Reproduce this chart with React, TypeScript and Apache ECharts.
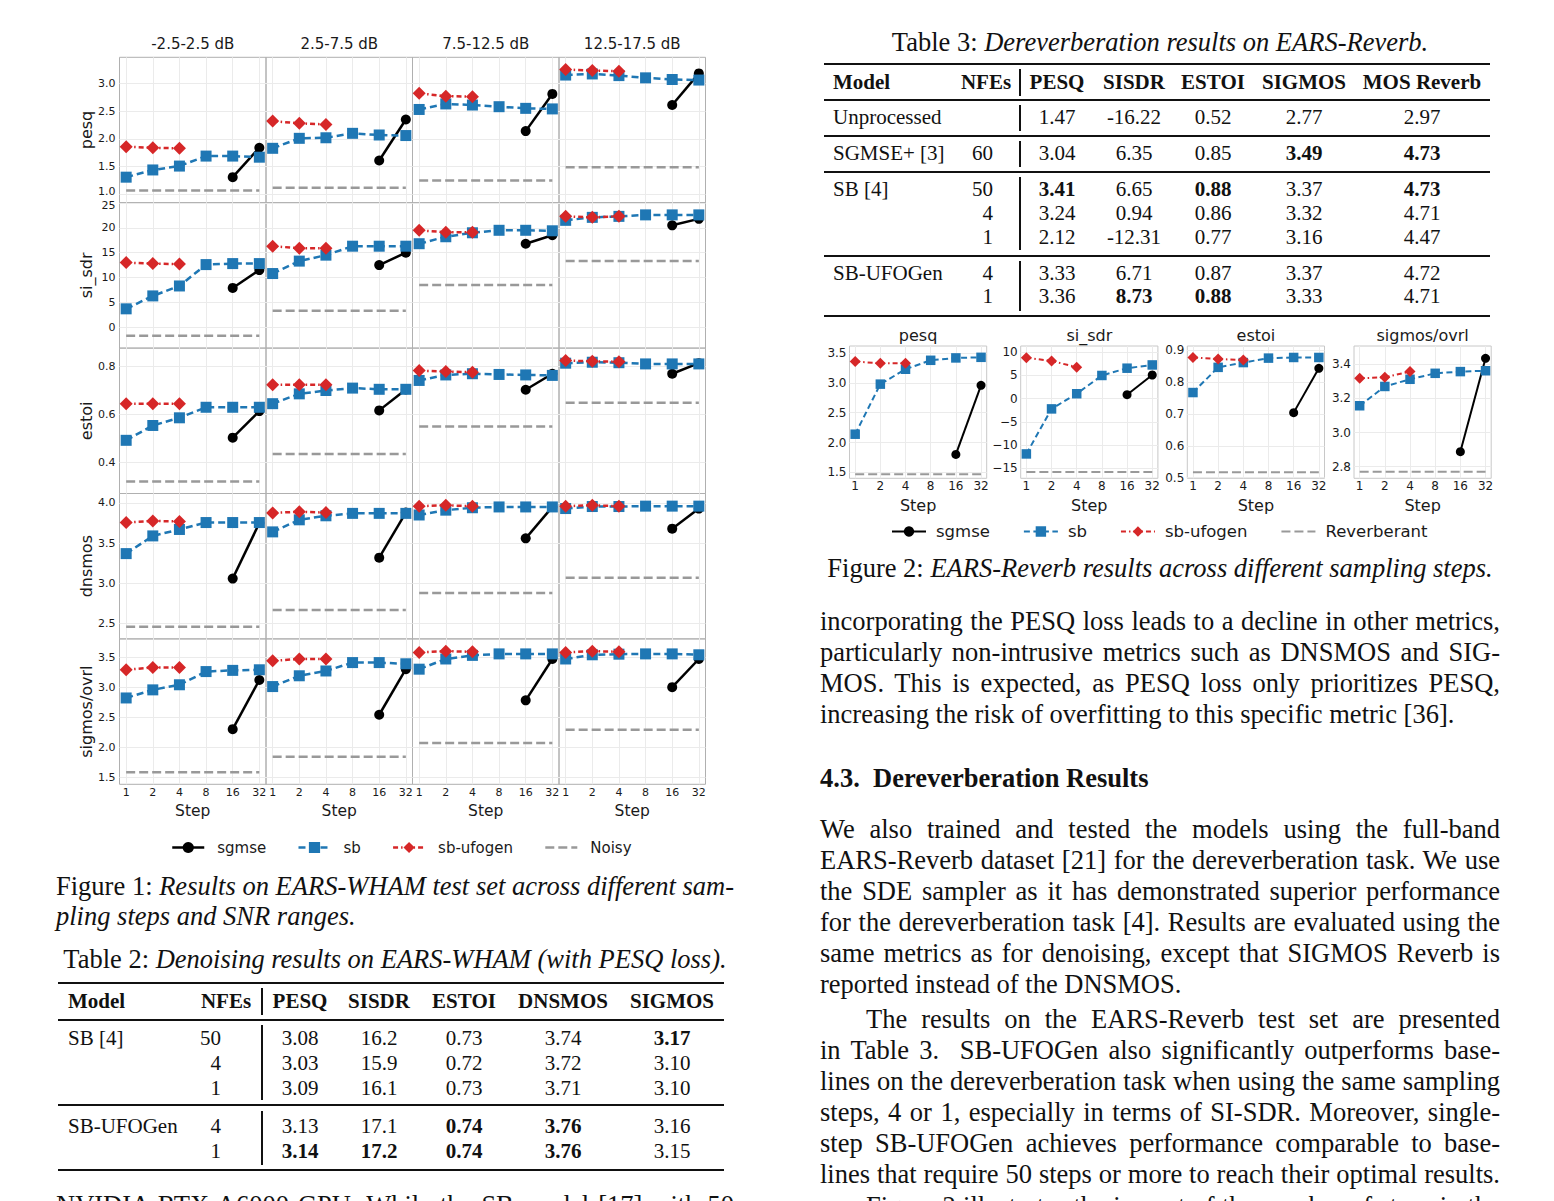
import React, { useEffect, useRef } from 'react';
import * as echarts from 'echarts';

// ---------------- data ----------------
const steps = [1, 2, 4, 8, 16, 32];
const sgmseSteps = [16, 32];
const ufogenSteps = [1, 2, 4];
const snrRanges = ['-2.5-2.5 dB', '2.5-7.5 dB', '7.5-12.5 dB', '12.5-17.5 dB'];
const fig1Metrics = ['pesq', 'si_sdr', 'estoi', 'dnsmos', 'sigmos/ovrl'];
const fig1SeriesNames = ['sgmse', 'sb', 'sb-ufogen', 'Noisy'];

// one inner list per SNR range
const pesqSgmse = [[1.31, 1.84], [1.61, 2.35], [2.14, 2.81], [2.61, 3.18]];
const pesqSb = [[1.31, 1.44, 1.51, 1.69, 1.69, 1.67], [1.83, 2.01, 2.02, 2.1, 2.07, 2.06], [2.53, 2.63, 2.61, 2.58, 2.55, 2.54], [3.15, 3.17, 3.14, 3.1, 3.07, 3.06]];
const pesqUfogen = [[1.86, 1.84, 1.83], [2.32, 2.28, 2.26], [2.82, 2.77, 2.76], [3.25, 3.23, 3.22]];
const pesqNoisy = [1.07, 1.12, 1.25, 1.49];

const sisdrSgmse = [[7.9, 11.5], [12.5, 15.0], [16.8, 18.5], [20.5, 21.8]];
const sisdrSb = [[3.7, 6.3, 8.3, 12.6, 12.8, 12.8], [10.8, 13.3, 14.5, 16.3, 16.3, 16.3], [16.8, 18.2, 19.0, 19.5, 19.5, 19.4], [21.5, 22.1, 22.3, 22.6, 22.6, 22.6]];
const sisdrUfogen = [[13.0, 12.8, 12.7], [16.3, 15.9, 15.9], [19.5, 19.1, 19.1], [22.3, 22.1, 22.3]];
const sisdrNoisy = [-1.7, 3.3, 8.5, 13.3];

const estoiSgmse = [[0.503, 0.614], [0.617, 0.704], [0.703, 0.77], [0.77, 0.814]];
const estoiSb = [[0.492, 0.554, 0.586, 0.63, 0.63, 0.63], [0.645, 0.686, 0.7, 0.71, 0.705, 0.705], [0.742, 0.765, 0.77, 0.767, 0.765, 0.763], [0.814, 0.818, 0.816, 0.811, 0.811, 0.811]];
const estoiUfogen = [[0.645, 0.645, 0.645], [0.724, 0.724, 0.724], [0.783, 0.779, 0.776], [0.825, 0.822, 0.82]];
const estoiNoisy = [0.32, 0.435, 0.55, 0.649];

const dnsmosSgmse = [[3.06, 3.75], [3.32, 3.88], [3.56, 3.95], [3.68, 3.93]];
const dnsmosSb = [[3.37, 3.59, 3.67, 3.756, 3.756, 3.756], [3.64, 3.79, 3.84, 3.87, 3.87, 3.87], [3.85, 3.91, 3.94, 3.95, 3.95, 3.95], [3.93, 3.955, 3.955, 3.96, 3.96, 3.96]];
const dnsmosUfogen = [[3.756, 3.776, 3.77], [3.876, 3.89, 3.88], [3.96, 3.97, 3.96], [3.96, 3.97, 3.96]];
const dnsmosNoisy = [2.46, 2.67, 2.88, 3.07];

const sigmosSgmse = [[2.3, 3.12], [2.54, 3.3], [2.78, 3.47], [3.0, 3.47]];
const sigmosSb = [[2.82, 2.955, 3.04, 3.26, 3.28, 3.29], [3.01, 3.19, 3.27, 3.41, 3.41, 3.39], [3.3, 3.47, 3.53, 3.555, 3.555, 3.555], [3.47, 3.54, 3.55, 3.555, 3.555, 3.54]];
const sigmosUfogen = [[3.29, 3.33, 3.33], [3.44, 3.47, 3.47], [3.58, 3.6, 3.59], [3.58, 3.6, 3.59]];
const sigmosNoisy = [1.58, 1.84, 2.07, 2.29];

const fig1YTicks = [[1.0, 1.5, 2.0, 2.5, 3.0], [0, 5, 10, 15, 20, 25], [0.4, 0.6, 0.8], [2.5, 3.0, 3.5, 4.0], [1.5, 2.0, 2.5, 3.0, 3.5]];
const fig1YDecimals = [1, 0, 1, 1, 1];

// Figure 2 (EARS-Reverb), one inner list per metric
const fig2Metrics = ['pesq', 'si_sdr', 'estoi', 'sigmos/ovrl'];
const fig2SeriesNames = ['sgmse', 'sb', 'sb-ufogen', 'Reverberant'];
const revSgmse = [[1.8, 2.96], [0.86, 5.1], [0.704, 0.843], [2.888, 3.435]];
const revSb = [[2.14, 2.98, 3.23, 3.38, 3.42, 3.43], [-11.9, -2.2, 1.07, 5.0, 6.57, 7.27], [0.767, 0.846, 0.861, 0.875, 0.877, 0.877], [3.157, 3.27, 3.312, 3.347, 3.357, 3.362]];
const revUfogen = [[3.36, 3.33, 3.33], [8.84, 8.13, 6.78], [0.877, 0.872, 0.869], [3.318, 3.324, 3.357]];
const revReverberant = [1.47, -15.8, 0.517, 2.77];
const fig2YTicks = [[1.5, 2.0, 2.5, 3.0, 3.5], [-15, -10, -5, 0, 5, 10], [0.5, 0.6, 0.7, 0.8, 0.9], [2.8, 3.0, 3.2, 3.4]];
const fig2YDecimals = [1, 0, 1, 1];

// Tables
const table3Header = ['Model', 'NFEs', 'PESQ', 'SISDR', 'ESTOI', 'SIGMOS', 'MOS Reverb'];
const table3Rows = [
  ['Unprocessed', '', '1.47', '-16.22', '0.52', '2.77', '2.97'],
  ['SGMSE+ [3]', '60', '3.04', '6.35', '0.85', '3.49', '4.73'],
  ['SB [4]', '50', '3.41', '6.65', '0.88', '3.37', '4.73'],
  ['', '4', '3.24', '0.94', '0.86', '3.32', '4.71'],
  ['', '1', '2.12', '-12.31', '0.77', '3.16', '4.47'],
  ['SB-UFOGen', '4', '3.33', '6.71', '0.87', '3.37', '4.72'],
  ['', '1', '3.36', '8.73', '0.88', '3.33', '4.71'],
];
const table3Bold = ['1,5', '1,6', '2,2', '2,4', '2,6', '6,3', '6,4'];

const table2Header = ['Model', 'NFEs', 'PESQ', 'SISDR', 'ESTOI', 'DNSMOS', 'SIGMOS'];
const table2Rows = [
  ['SB [4]', '50', '3.08', '16.2', '0.73', '3.74', '3.17'],
  ['', '4', '3.03', '15.9', '0.72', '3.72', '3.10'],
  ['', '1', '3.09', '16.1', '0.73', '3.71', '3.10'],
  ['SB-UFOGen', '4', '3.13', '17.1', '0.74', '3.76', '3.16'],
  ['', '1', '3.14', '17.2', '0.74', '3.76', '3.15'],
];
const table2Bold = ['0,6', '3,4', '3,5', '4,2', '4,3', '4,4', '4,5'];

// ---------------- styles ----------------
const FONT = '"DejaVu Sans", sans-serif';
const SERIF = '"Liberation Serif", "Times New Roman", serif';
const C_SGMSE = '#000000';
const C_SB = '#1f77b4';
const C_UF = '#d62728';
const C_NOISY = '#999999';
const TXT = '#1a1a1a';

const fmt = (v: number, d: number) => (v < 0 ? '\u2212' : '') + Math.abs(v).toFixed(d);
const lg = (s: number) => Math.log2(s);

function seriesStyle(kind: number, big: boolean): any {
  const lw = big ? 2.5 : 2;
  if (kind === 0) return { symbol: 'circle', symbolSize: big ? 10 : 9, itemStyle: { color: C_SGMSE }, lineStyle: { color: C_SGMSE, width: lw, type: 'solid' } };
  if (kind === 1) return { symbol: 'rect', symbolSize: big ? 11 : 9.5, itemStyle: { color: C_SB }, lineStyle: { color: C_SB, width: lw, type: big ? [7, 4] : [6, 3.5] } };
  if (kind === 2) return { symbol: 'diamond', symbolSize: big ? 13 : 11, itemStyle: { color: C_UF }, lineStyle: { color: C_UF, width: lw, type: [5, 3, 1.5, 3] } };
  return { symbol: 'none', itemStyle: { color: C_NOISY, opacity: 0 }, lineStyle: { color: C_NOISY, width: lw, type: [9, 4] } };
}

function makeSeries(names: string[], gi: number, big: boolean, sg: number[], sb: number[], uf: number[], base: number) {
  const common = { type: 'line', xAxisIndex: gi, yAxisIndex: gi, silent: true, animation: false };
  return [
    { ...common, name: names[0], data: sgmseSteps.map((s, i) => [lg(s), sg[i]]), ...seriesStyle(0, big) },
    { ...common, name: names[1], data: steps.map((s, i) => [lg(s), sb[i]]), ...seriesStyle(1, big) },
    { ...common, name: names[2], data: ufogenSteps.map((s, i) => [lg(s), uf[i]]), ...seriesStyle(2, big) },
    { ...common, name: names[3], data: [[lg(steps[0]), base], [lg(steps[steps.length - 1]), base]], ...seriesStyle(3, big) },
  ];
}

function buildFig1(): any {
  const L = 119.5, T = 57.3, W = 146.5, H = 145.4;
  const yRanges = [[0.85, 3.47], [-4.2, 25.05], [0.27, 0.877], [2.31, 4.117], [1.38, 3.805]];
  const rows = [
    [pesqSgmse, pesqSb, pesqUfogen, pesqNoisy],
    [sisdrSgmse, sisdrSb, sisdrUfogen, sisdrNoisy],
    [estoiSgmse, estoiSb, estoiUfogen, estoiNoisy],
    [dnsmosSgmse, dnsmosSb, dnsmosUfogen, dnsmosNoisy],
    [sigmosSgmse, sigmosSb, sigmosUfogen, sigmosNoisy],
  ] as any[];
  const xTicks = steps.map(lg);
  const labelRich = {
    lo: { fontSize: 11, color: TXT, fontFamily: FONT, padding: [0, 0, 5, 0] },
    hi: { fontSize: 11, color: TXT, fontFamily: FONT, padding: [5, 0, 0, 0] },
  };
  const grid: any[] = [], xAxis: any[] = [], yAxis: any[] = [], series: any[] = [];
  for (let r = 0; r < 5; r++) {
    const ticks = fig1YTicks[r];
    for (let c = 0; c < 4; c++) {
      const gi = r * 4 + c;
      grid.push({ left: L + c * W, top: T + r * H, width: W, height: H, show: true, borderColor: '#b0b0b0', borderWidth: 1, backgroundColor: 'transparent' });
      xAxis.push({
        type: 'value', gridIndex: gi, min: -0.25, max: 5.25,
        axisLine: { show: false }, axisTick: { show: false, customValues: xTicks },
        axisLabel: { show: r === 4, customValues: xTicks, formatter: (v: number) => String(steps[Math.round(v)]), fontSize: 11, color: TXT, margin: 3, fontFamily: FONT },
        splitLine: { show: true, lineStyle: { color: '#ebebeb', width: 1 } },
        name: r === 4 ? 'Step' : '', nameLocation: 'middle', nameGap: 19,
        nameTextStyle: { fontSize: 15.5, color: TXT, fontFamily: FONT },
      });
      yAxis.push({
        type: 'value', gridIndex: gi, min: yRanges[r][0], max: yRanges[r][1],
        axisLine: { show: false }, axisTick: { show: false, customValues: ticks },
        axisLabel: {
          show: c === 0, customValues: ticks, fontSize: 11, color: TXT, margin: 4, fontFamily: FONT, rich: labelRich,
          formatter: (v: number) => {
            const s = fmt(v, fig1YDecimals[r]);
            // lowest label of the upper row and highest label of the lower row sit next to each other
            if (r < 4 && v === ticks[0] && r === 0) return '{lo|' + s + '}';
            if (r === 1 && v === ticks[ticks.length - 1]) return '{hi|' + s + '}';
            return s;
          },
        },
        splitLine: { show: true, lineStyle: { color: '#ebebeb', width: 1 } },
        name: c === 0 ? fig1Metrics[r] : '', nameLocation: 'middle', nameGap: 25, nameRotate: 90,
        nameTextStyle: { fontSize: 16, color: TXT, fontFamily: FONT },
      });
      const d = rows[r];
      series.push(...makeSeries(fig1SeriesNames, gi, true, d[0][c], d[1][c], d[2][c], d[3][c]));
    }
  }
  return {
    animation: false,
    textStyle: { fontFamily: FONT },
    grid, xAxis, yAxis, series,
    legend: {
      data: fig1SeriesNames, left: 166, top: 835, itemWidth: 32, itemHeight: 14, itemGap: 31,
      textStyle: { fontSize: 15, color: TXT, fontFamily: FONT, padding: [0, 0, 0, 8] },
      lineStyle: { width: 2.5 }, selectedMode: false,
    },
    graphic: snrRanges.map((t, c) => ({
      type: 'text', x: L + c * W + W / 2, y: 44, silent: true,
      style: { text: t, font: `15px ${FONT}`, fill: TXT, align: 'center', verticalAlign: 'middle' },
    })),
  };
}

function buildFig2(): any {
  const lefts = [49.5, 220.7, 387.3, 554];
  const T = 26, W = 137.2, H = 132.3;
  const yRanges = [[1.4, 3.62], [-17.15, 11.35], [0.498, 0.913], [2.732, 3.507]];
  const xTicks = steps.map(lg);
  const grid: any[] = [], xAxis: any[] = [], yAxis: any[] = [], series: any[] = [];
  for (let c = 0; c < 4; c++) {
    grid.push({ left: lefts[c], top: T, width: W, height: H, show: true, borderColor: '#c8c8c8', borderWidth: 1, backgroundColor: 'transparent' });
    xAxis.push({
      type: 'value', gridIndex: c, min: -0.225, max: 5.225,
      axisLine: { show: false }, axisTick: { show: false, customValues: xTicks },
      axisLabel: { customValues: xTicks, formatter: (v: number) => String(steps[Math.round(v)]), fontSize: 12, color: TXT, margin: 2, fontFamily: FONT },
      splitLine: { show: true, lineStyle: { color: '#ebebeb', width: 1 } },
      name: 'Step', nameLocation: 'middle', nameGap: 18,
      nameTextStyle: { fontSize: 16, color: TXT, fontFamily: FONT },
    });
    yAxis.push({
      type: 'value', gridIndex: c, min: yRanges[c][0], max: yRanges[c][1],
      axisLine: { show: false }, axisTick: { show: false, customValues: fig2YTicks[c] },
      axisLabel: { customValues: fig2YTicks[c], formatter: (v: number) => fmt(v, fig2YDecimals[c]), fontSize: 12, color: TXT, margin: 3, fontFamily: FONT },
      splitLine: { show: true, lineStyle: { color: '#ebebeb', width: 1 } },
    });
    series.push(...makeSeries(fig2SeriesNames, c, false, revSgmse[c], revSb[c], revUfogen[c], revReverberant[c]));
  }
  return {
    animation: false,
    textStyle: { fontFamily: FONT },
    grid, xAxis, yAxis, series,
    legend: {
      data: fig2SeriesNames, left: 86, top: 198, itemWidth: 34, itemHeight: 13, itemGap: 33,
      textStyle: { fontSize: 16.5, color: TXT, fontFamily: FONT, padding: [0, 0, 0, 5] },
      lineStyle: { width: 2 }, selectedMode: false,
    },
    graphic: fig2Metrics.map((t, c) => ({
      type: 'text', x: lefts[c] + W / 2, y: 15, silent: true,
      style: { text: t, font: `16px ${FONT}`, fill: TXT, align: 'center', verticalAlign: 'middle' },
    })),
  };
}

function Chart({ left, top, width, height, build }: { left: number; top: number; width: number; height: number; build: () => any }) {
  const ref = useRef<HTMLDivElement>(null);
  useEffect(() => {
    if (!ref.current) return;
    const chart = echarts.init(ref.current, null, { renderer: 'svg' });
    chart.setOption(build());
    return () => chart.dispose();
  }, []);
  return <div ref={ref} style={{ position: 'absolute', left, top, width, height }} />;
}

// ---------------- text helpers ----------------
type Seg = { t: string; i?: boolean; b?: boolean };
type LineSpec = { x: number; y: number; w: number; segs: Seg[]; align: 'justify' | 'left' | 'center' };

function TextLine({ spec }: { spec: LineSpec }) {
  const { x, y, w, segs, align } = spec;
  return (
    <div style={{ position: 'absolute', left: x, top: y - 15.5, width: w, height: 31, lineHeight: '31px', fontSize: 26.5, fontFamily: SERIF, color: '#111', whiteSpace: 'nowrap', textAlign: align, textAlignLast: align as any }}>
      {segs.map((s, k) => (
        <span key={k} style={{ fontStyle: s.i ? 'italic' : 'normal', fontWeight: s.b ? 700 : 400 }}>{s.t}</span>
      ))}
    </div>
  );
}

const RX = 820, RW = 680, LX = 56, LW = 678;
const textLines: LineSpec[] = [
  { x: RX, y: 42, w: RW, align: 'center', segs: [{ t: 'Table 3: ' }, { t: 'Dereverberation results on EARS-Reverb.', i: true }] },
  { x: RX, y: 568, w: RW, align: 'center', segs: [{ t: 'Figure 2: ' }, { t: 'EARS-Reverb results across different sampling steps.', i: true }] },
  { x: RX, y: 621, w: RW, align: 'justify', segs: [{ t: 'incorporating the PESQ loss leads to a decline in other metrics,' }] },
  { x: RX, y: 652, w: RW, align: 'justify', segs: [{ t: 'particularly non-intrusive metrics such as DNSMOS and SIG-' }] },
  { x: RX, y: 683, w: RW, align: 'justify', segs: [{ t: 'MOS. This is expected, as PESQ loss only prioritizes PESQ,' }] },
  { x: RX, y: 714, w: RW, align: 'left', segs: [{ t: 'increasing the risk of overfitting to this specific metric [36].' }] },
  { x: RX, y: 778, w: RW, align: 'left', segs: [{ t: '4.3.\u00a0\u00a0Dereverberation Results', b: true }] },
  { x: RX, y: 829, w: RW, align: 'justify', segs: [{ t: 'We also trained and tested the models using the full-band' }] },
  { x: RX, y: 860, w: RW, align: 'justify', segs: [{ t: 'EARS-Reverb dataset [21] for the dereverberation task. We use' }] },
  { x: RX, y: 891, w: RW, align: 'justify', segs: [{ t: 'the SDE sampler as it has demonstrated superior performance' }] },
  { x: RX, y: 922, w: RW, align: 'justify', segs: [{ t: 'for the dereverberation task [4]. Results are evaluated using the' }] },
  { x: RX, y: 953, w: RW, align: 'justify', segs: [{ t: 'same metrics as for denoising, except that SIGMOS Reverb is' }] },
  { x: RX, y: 984, w: RW, align: 'left', segs: [{ t: 'reported instead of the DNSMOS.' }] },
  { x: RX + 46, y: 1019, w: RW - 46, align: 'justify', segs: [{ t: 'The results on the EARS-Reverb test set are presented' }] },
  { x: RX, y: 1050, w: RW, align: 'justify', segs: [{ t: 'in Table 3.\u00a0 SB-UFOGen also significantly outperforms base-' }] },
  { x: RX, y: 1081, w: RW, align: 'justify', segs: [{ t: 'lines on the dereverberation task when using the same sampling' }] },
  { x: RX, y: 1112, w: RW, align: 'justify', segs: [{ t: 'steps, 4 or 1, especially in terms of SI-SDR. Moreover, single-' }] },
  { x: RX, y: 1143, w: RW, align: 'justify', segs: [{ t: 'step SB-UFOGen achieves performance comparable to base-' }] },
  { x: RX, y: 1174, w: RW, align: 'justify', segs: [{ t: 'lines that require 50 steps or more to reach their optimal results.' }] },
  { x: RX + 46, y: 1206, w: RW - 46, align: 'justify', segs: [{ t: 'Figure 2 illustrates the impact of the number of steps in the' }] },
  { x: LX, y: 886, w: LW, align: 'justify', segs: [{ t: 'Figure 1: ' }, { t: 'Results on EARS-WHAM test set across different sam-', i: true }] },
  { x: LX, y: 916, w: LW, align: 'left', segs: [{ t: 'pling steps and SNR ranges.', i: true }] },
  { x: LX, y: 959, w: LW, align: 'center', segs: [{ t: 'Table 2: ' }, { t: 'Denoising results on EARS-WHAM (with PESQ loss).', i: true }] },
  { x: LX, y: 1205, w: LW, align: 'justify', segs: [{ t: 'NVIDIA RTX A6000 GPU. While the SB model [17] with 50' }] },
];

function Cell({ x, y, text, align, bold }: { x: number; y: number; text: string; align: 'left' | 'center' | 'right'; bold?: boolean }) {
  const w = 200;
  const left = align === 'left' ? x : align === 'center' ? x - w / 2 : x - w;
  return (
    <div style={{ position: 'absolute', left, top: y - 13, width: w, height: 26, lineHeight: '26px', fontSize: 21, fontFamily: SERIF, fontWeight: bold ? 700 : 400, textAlign: align, whiteSpace: 'nowrap', color: '#111' }}>{text}</div>
  );
}

function HRule({ x0, x1, y, t }: { x0: number; x1: number; y: number; t: number }) {
  return <div style={{ position: 'absolute', left: x0, top: y - t / 2, width: x1 - x0, height: t, background: '#111' }} />;
}
function VRule({ x, y0, y1 }: { x: number; y0: number; y1: number }) {
  return <div style={{ position: 'absolute', left: x - 0.6, top: y0, width: 1.2, height: y1 - y0, background: '#111' }} />;
}

function Table({ header, rows, bold, colX, headX, headY, rowY, rules, x0, x1, barX, bars }: any) {
  const aligns: ('left' | 'center' | 'right')[] = ['left', 'right', 'center', 'center', 'center', 'center', 'center'];
  const hAligns: ('left' | 'center' | 'right')[] = ['left', 'center', 'center', 'center', 'center', 'center', 'center'];
  return (
    <>
      {header.map((h: string, k: number) => <Cell key={'h' + k} x={headX[k]} y={headY} text={h} align={hAligns[k]} bold />)}
      {rows.map((row: string[], r: number) => row.map((v: string, k: number) => v ? (
        <Cell key={r + '-' + k} x={colX[k]} y={rowY[r]} text={v} align={aligns[k]} bold={bold.includes(r + ',' + k)} />
      ) : null))}
      {rules.map((ru: number[], k: number) => <HRule key={'r' + k} x0={x0} x1={x1} y={ru[0]} t={ru[1]} />)}
      {bars.map((b: number[], k: number) => <VRule key={'b' + k} x={barX} y0={b[0]} y1={b[1]} />)}
    </>
  );
}

export default function App() {
  return (
    <div style={{ position: 'absolute', left: 0, top: 0, width: 1554, height: 1201, overflow: 'hidden', background: '#fff' }}>
      <Chart left={0} top={0} width={730} height={870} build={buildFig1} />
      <Chart left={800} top={320} width={730} height={240} build={buildFig2} />
      {textLines.map((s, k) => <TextLine key={k} spec={s} />)}
      <Table
        header={table3Header} rows={table3Rows} bold={table3Bold}
        colX={[833, 993, 1057, 1134, 1213, 1304, 1422]}
        headX={[833, 986, 1057, 1134, 1213, 1304, 1422]}
        headY={82} rowY={[117, 153, 189, 213, 237, 273, 296]}
        rules={[[64, 2], [100, 1.2], [136, 1.2], [172, 1.2], [256, 1.2], [316, 2]]}
        x0={824} x1={1490} barX={1020}
        bars={[[69, 96], [105, 131], [141, 167], [177, 250], [261, 311]]}
      />
      <Table
        header={table2Header} rows={table2Rows} bold={table2Bold}
        colX={[68, 221, 300, 379, 464, 563, 672]}
        headX={[68, 226, 300, 379, 464, 563, 672]}
        headY={1001} rowY={[1038, 1063, 1088, 1126, 1151]}
        rules={[[983, 2], [1020, 1.2], [1105, 1.2], [1170, 2]]}
        x0={58} x1={724} barX={262}
        bars={[[988, 1015], [1025, 1100], [1111, 1165]]}
      />
    </div>
  );
}
